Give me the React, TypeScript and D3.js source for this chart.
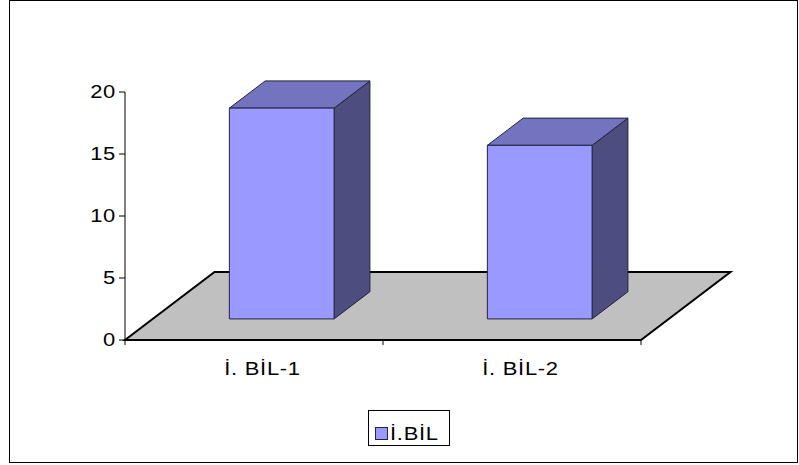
import React from "react";
import * as d3 from "d3";

// Chart data
const categories = ["İ. BİL-1", "İ. BİL-2"];
const values = [17, 14];
const yTicks = [0, 5, 10, 15, 20];
const seriesName = "İ.BİL";

const W = 799;
const H = 465;

// Front plane of the plot
const x0 = 125;
const x1 = 641;
const yBase = 340;
const yTop = 92;

// Oblique depth vector for the full floor depth
const depth: [number, number] = [89.5, -68];
const barFront = 0.31;
const barBack = 0.71;

const FONT = "Liberation Sans, Arial, sans-serif";
const FONT_SIZE = 18;
const STRETCH = 1.22;
const SPACING = 0.6;

function Label(props: { x: number; y: number; anchor?: "start" | "middle" | "end"; children: React.ReactNode }) {
  return (
    <text
      transform={`translate(${props.x},${props.y}) scale(${STRETCH},1)`}
      textAnchor={props.anchor ?? "start"}
      fontFamily={FONT}
      fontSize={FONT_SIZE}
      letterSpacing={SPACING}
      fill="#000"
    >
      {props.children}
    </text>
  );
}

export default function App() {
  const x = d3.scaleBand<string>().domain(categories).range([x0, x1]).paddingInner(0).paddingOuter(0);
  const y = d3.scaleLinear().domain([0, 20]).range([yBase, yTop]);

  const barW = x.bandwidth() * 0.406;
  const off = (f: number): [number, number] => [depth[0] * f, depth[1] * f];
  const [fdx, fdy] = off(barFront);
  const [bdx, bdy] = off(barBack);

  const floor = [
    [x0, yBase],
    [x1, yBase],
    [x1 + depth[0], yBase + depth[1]],
    [x0 + depth[0], yBase + depth[1]],
  ];
  const poly = (pts: number[][]) => pts.map((p) => p.join(",")).join(" ");

  return (
    <svg width={W} height={H} style={{ display: "block", position: "absolute", left: 0, top: 0 }}>
      <rect x={0} y={0} width={W} height={H} fill="#ffffff" />
      <rect x={9.5} y={0.5} width={788} height={462} fill="none" stroke="#000" strokeWidth={1} />

      {/* Floor */}
      <polygon points={poly(floor)} fill="#c0c0c0" stroke="#000" strokeWidth={2} strokeLinejoin="miter" />

      {/* Bars */}
      {categories.map((c, i) => {
        const cx = (x(c) as number) + x.bandwidth() / 2;
        const left = cx - barW / 2 + fdx;
        const right = cx + barW / 2 + fdx;
        const bottom = yBase + fdy;
        const top = bottom - (yBase - y(values[i]));
        const ddx = bdx - fdx;
        const ddy = bdy - fdy;
        const front = [[left, top], [right, top], [right, bottom], [left, bottom]];
        const topFace = [[left, top], [left + ddx, top + ddy], [right + ddx, top + ddy], [right, top]];
        const side = [[right, top], [right + ddx, top + ddy], [right + ddx, bottom + ddy], [right, bottom]];
        return (
          <g key={c} stroke="#23233f" strokeWidth={1} strokeLinejoin="round">
            <polygon points={poly(side)} fill="#4d4d80" />
            <polygon points={poly(topFace)} fill="#7373bf" />
            <polygon points={poly(front)} fill="#9999ff" />
          </g>
        );
      })}

      {/* Value axis */}
      <line x1={x0} x2={x0} y1={yTop} y2={yBase} stroke="#000" strokeWidth={1} />
      {yTicks.map((t) => (
        <g key={t}>
          <line x1={x0 - 6} x2={x0} y1={y(t)} y2={y(t)} stroke="#000" strokeWidth={1} />
          <Label x={x0 - 9} y={y(t) + 6} anchor="end">
            {t}
          </Label>
        </g>
      ))}

      {/* Category axis ticks */}
      {[x0, x0 + x.bandwidth(), x1].map((tx, i) => (
        <line key={i} x1={tx} x2={tx} y1={yBase} y2={yBase + 5} stroke="#000" strokeWidth={1} />
      ))}
      {categories.map((c) => (
        <Label key={c} x={(x(c) as number) + x.bandwidth() / 2 + 8.5} y={375} anchor="middle">
          {c}
        </Label>
      ))}

      {/* Legend */}
      <rect x={368.5} y={410.5} width={81} height={35} fill="#fff" stroke="#000" strokeWidth={1} />
      <rect x={375.5} y={427.5} width={12} height={12} fill="#9999ff" stroke="#23233f" strokeWidth={1} />
      <Label x={390} y={440}>
        {seriesName}
      </Label>
    </svg>
  );
}
